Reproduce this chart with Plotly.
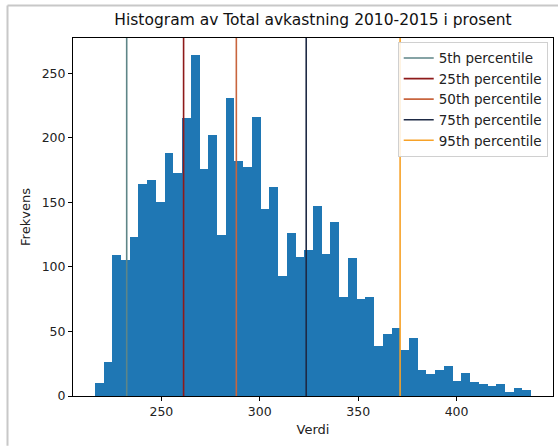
import numpy as np
import plotly.graph_objects as go

# Histogram data (50 bins)
bin_start = 216.2
bin_end = 437.9
counts = [10, 26, 109, 105, 123, 164, 167, 150, 188, 173,
          215, 264, 176, 202, 125, 231, 182, 177, 216, 145,
          162, 93, 126, 108, 113, 147, 110, 135, 77, 107,
          75, 77, 39, 48, 53, 36, 45, 20, 17, 20,
          23, 12, 18, 11, 9, 8, 9, 3, 6, 5]

percentile_names = ["5th percentile", "25th percentile", "50th percentile",
                    "75th percentile", "95th percentile"]
percentile_values = [232.4, 261.3, 288.1, 323.6, 371.3]
percentile_colors = ["#5e8587", "#8e1a1a", "#c8653e", "#1e2a45", "#f7a228"]

edges = np.linspace(bin_start, bin_end, len(counts) + 1)
centers = (edges[:-1] + edges[1:]) / 2
width = edges[1] - edges[0]

ymax = max(counts) * 1.05
xpad = (bin_end - bin_start) * 0.05

fig = go.Figure()
fig.add_trace(go.Bar(x=centers, y=counts, width=width,
                     marker=dict(color="#1f77b4", line=dict(width=0)),
                     showlegend=False, hoverinfo="skip"))

for name, val, col in zip(percentile_names, percentile_values, percentile_colors):
    fig.add_trace(go.Scatter(x=[val, val], y=[0, ymax], mode="lines",
                             line=dict(color=col, width=1.6), name=name))

font = "DejaVu Sans, sans-serif"
fig.update_layout(
    width=558, height=446,
    margin=dict(l=73, r=5, t=37.5, b=49.5),
    paper_bgcolor="white", plot_bgcolor="white",
    bargap=0,
    font=dict(family=font, size=12.5, color="#222222"),
    title=dict(text="Histogram av Total avkastning 2010-2015 i prosent",
               x=0.5 + (73 - 5) / 2 / 558, xanchor="center", y=1 - 20 / 446, yanchor="middle",
               font=dict(size=15.5, color="#111111")),
    xaxis=dict(range=[bin_start - xpad, bin_end + xpad],
               tickvals=[250, 300, 350, 400],
               showgrid=False, zeroline=False,
               showline=True, linecolor="black", linewidth=1, mirror=True,
               ticks="outside", ticklen=4, tickcolor="black",
               title=dict(text="Verdi", standoff=6, font=dict(size=13))),
    yaxis=dict(range=[0, ymax],
               tickvals=[0, 50, 100, 150, 200, 250],
               showgrid=False, zeroline=False,
               showline=True, linecolor="black", linewidth=1, mirror=True,
               ticks="outside", ticklen=4, tickcolor="black",
               title=dict(text="Frekvens", standoff=8, font=dict(size=13))),
    legend=dict(x=0.989, xanchor="right", y=0.9894, yanchor="top",
                bgcolor="rgba(255,255,255,0.85)", bordercolor="#d0d0d0", borderwidth=1,
                font=dict(size=13.5, color="#222222"), itemwidth=30,
                tracegroupgap=0),
)

# light screenshot frame (left & top)
fig.add_shape(type="line", xref="paper", yref="paper",
              x0=(7.5 - 73) / 480, x1=(7.5 - 73) / 480, y0=1 + 32.5 / 359, y1=-50 / 359,
              line=dict(color="#c8c8c8", width=2))
fig.add_shape(type="line", xref="paper", yref="paper",
              x0=(7.5 - 73) / 480, x1=(560 - 73) / 480, y0=1 + 32.5 / 359, y1=1 + 32.5 / 359,
              line=dict(color="#c8c8c8", width=2))

fig.write_html("out.html")
